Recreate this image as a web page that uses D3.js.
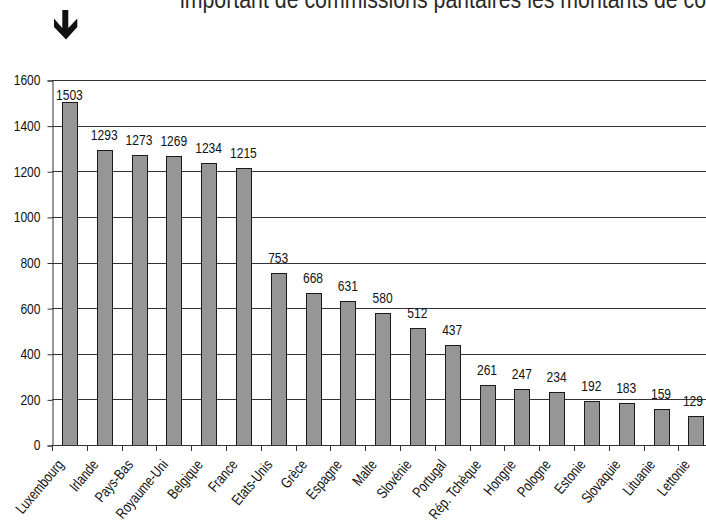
<!DOCTYPE html>
<html><head><meta charset="utf-8">
<script src="https://cdn.jsdelivr.net/npm/d3@7"></script>
<style>
html,body{margin:0;padding:0;background:#fff;overflow:hidden;}
svg{display:block;}
text{font-family:"Liberation Sans",Arial,sans-serif;}
</style></head>
<body><svg id="c" width="706" height="524"></svg>
<script>
const categories = ["Luxembourg","Irlande","Pays-Bas","Royaume-Uni","Belgique","France","Etats-Unis","Grèce","Espagne","Malte","Slovénie","Portugal","Rép. Tchèque","Hongrie","Pologne","Estonie","Slovaquie","Lituanie","Lettonie"];
const values = [1503,1293,1273,1269,1234,1215,753,668,631,580,512,437,261,247,234,192,183,159,129];
const yTicks = [0,200,400,600,800,1000,1200,1400,1600];
const titleText = "important de commissions paritaires les montants de commissions";

const svg = d3.select("#c");
const W = 706;
const mLeft = 52, mTop = 80, mBottom = 445, step = 34.8;
const mRight = mLeft + step * categories.length;

const x = d3.scaleBand().domain(categories).range([mLeft, mRight]).paddingInner(0.58).paddingOuter(0.29);
const y = d3.scaleLinear().domain([0, 1600]).range([mBottom, mTop]);

// condensed look: squeeze glyphs horizontally
function condense(sel, f) {
  sel.each(function () {
    const w = this.getComputedTextLength();
    d3.select(this).attr("textLength", w * f).attr("lengthAdjust", "spacingAndGlyphs");
  });
}

// title (cut off at top)
svg.append("text").attr("x", 180).attr("y", 8).attr("font-size", 26).attr("fill", "#2a2a2a")
  .text(titleText).call(condense, 0.82);

// arrow
svg.append("path")
  .attr("d", "M62.3,10 L68.3,10 L68.3,28 L77.3,18.5 L77.3,27 L66,39.5 L54,27 L54,18.5 L62.3,28 Z")
  .attr("fill", "#111");

// gridlines
svg.append("g").selectAll("line").data(yTicks.filter(d => d > 0)).join("line")
  .attr("x1", mLeft).attr("x2", W)
  .attr("y1", d => Math.round(y(d)) + 0.5).attr("y2", d => Math.round(y(d)) + 0.5)
  .attr("stroke", "#333").attr("stroke-width", 1);

// y axis
const yAxis = d3.axisLeft(y).tickValues(yTicks).tickSize(5).tickPadding(7).tickFormat(d3.format("d"));
const gy = svg.append("g").attr("transform", `translate(${mLeft + 0.5},0.5)`).call(yAxis);
gy.attr("font-family", null).attr("font-size", null);
gy.select(".domain").attr("stroke", "#333");
gy.selectAll(".tick line").attr("stroke", "#333");
gy.selectAll(".tick text").attr("font-size", 14).attr("fill", "#111").call(condense, 0.86);

// bars
svg.append("g").selectAll("rect").data(values).join("rect")
  .attr("x", (d, i) => Math.round(x(categories[i])) + 0.5)
  .attr("y", d => Math.round(y(d)) + 0.5)
  .attr("width", Math.round(x.bandwidth()))
  .attr("height", d => Math.round(mBottom) - Math.round(y(d)))
  .attr("fill", "#969696").attr("stroke", "#1a1a1a").attr("stroke-width", 1);

// x axis baseline and ticks
svg.append("line").attr("x1", mLeft).attr("x2", W).attr("y1", mBottom + 0.5).attr("y2", mBottom + 0.5).attr("stroke", "#333");
svg.append("g").selectAll("line").data(categories.concat(["__end"])).join("line")
  .attr("x1", (d, i) => Math.round(mLeft + i * x.step()) + 0.5)
  .attr("x2", (d, i) => Math.round(mLeft + i * x.step()) + 0.5)
  .attr("y1", mBottom).attr("y2", mBottom + 6)
  .attr("stroke", "#333");

// value labels
svg.append("g").selectAll("text").data(values).join("text")
  .attr("y", d => Math.max(y(d) - 10, mTop + 20))
  .attr("text-anchor", "middle").attr("font-size", 14).attr("fill", "#111")
  .text(d => d).call(condense, 0.86)
  .attr("x", function (d, i) {
    const cx = x(categories[i]) + x.bandwidth() / 2;
    const half = (+this.getAttribute("textLength")) / 2;
    return Math.min(cx, W - 3 - half);
  });

// category labels
svg.append("g").selectAll("text").data(categories).join("text")
  .attr("transform", (d) => `translate(${x(d) + x.bandwidth() / 2 - 5},${465}) rotate(-50)`)
  .attr("text-anchor", "end").attr("font-size", 15).attr("fill", "#111")
  .text(d => d).call(condense, 0.78);
</script></body></html>
